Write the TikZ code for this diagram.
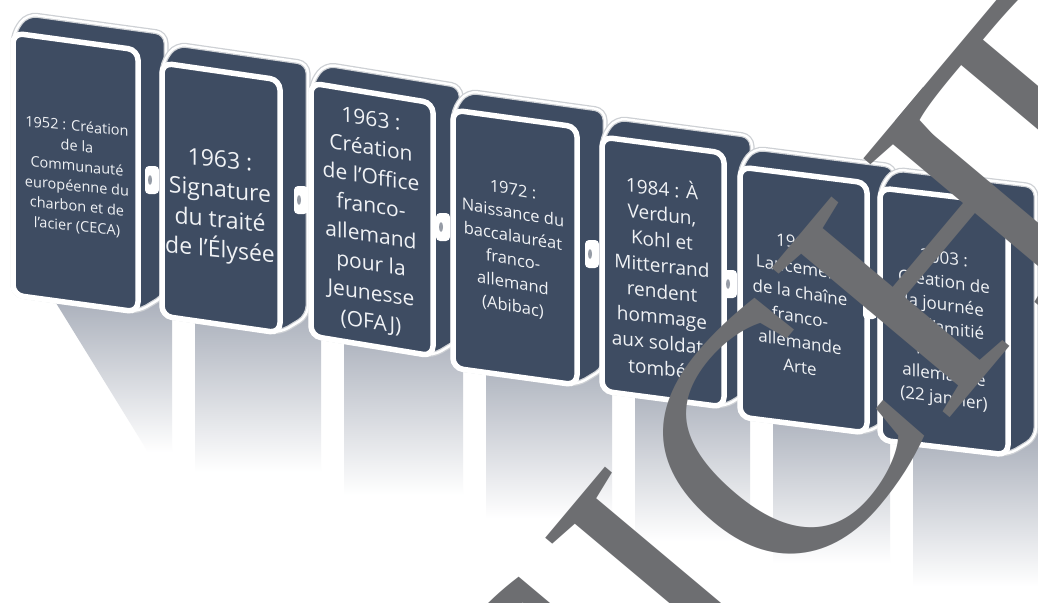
\documentclass[tikz,border=0pt]{standalone}
\usepackage{fontspec}
\setmainfont{Open Sans}
\newfontfamily\wmfont{Liberation Serif}
\definecolor{navy}{RGB}{62,76,98}
\definecolor{edgegray}{RGB}{205,208,212}
\definecolor{shgray}{RGB}{165,171,183}
\definecolor{txtwhite}{RGB}{240,242,245}
\definecolor{tabgray}{RGB}{150,156,166}
\definecolor{wmgray}{RGB}{109,110,113}
\newcommand\tlbox[5]{%
  \path[draw=edgegray, line width=5, fill=navy, rounded corners=10]
    (#1,#3+#5) -- (#1,#3) -- (#1+14,#3-19) -- (#2+28,#3+#4-17) -- (#2+28,#3+#4+#5-17) -- (#2,#3+#4+#5) -- cycle;
  \draw[white, line width=2.5, rounded corners=10]
    (#1,#3+#5) -- (#1,#3) -- (#1+14,#3-19) -- (#2+28,#3+#4-17) -- (#2+28,#3+#4+#5-17) -- (#2,#3+#4+#5) -- cycle;
  \draw[draw=white, line width=5.5, fill=navy, rounded corners=10]
    (#1,#3) -- (#2,#3+#4) -- (#2,#3+#4+#5) -- (#1,#3+#5) -- cycle;
}
\newcommand\tltab[2]{%
  \fill[white, rounded corners=4] (#1-7,#2-14) rectangle (#1+7,#2+14);
  \fill[tabgray] (#1-2,#2) ellipse (2 and 5);
}
\begin{document}
\begin{tikzpicture}[x=1pt,y=-1pt,
  boxtext/.style={text=txtwhite, align=center, inner sep=0pt},
  shadowband/.style={top color=shgray, bottom color=white, draw=none}]
\useasboundingbox (0,0) rectangle (1038,602);
\fill[white] (0,0) rectangle (1038,602);
% shadows under the boxes
\shade[shadowband] (48,290) -- (172,290) -- (172,452) -- (148,452) -- cycle;
\shade[shadowband] (195,300) rectangle (321,472);
\shade[shadowband] (344,320) rectangle (463,495);
\shade[shadowband] (486,350) rectangle (612,518);
\shade[shadowband] (635,375) rectangle (750,541);
\shade[shadowband] (773,400) rectangle (890,563);
\shade[shadowband] (913,425) rectangle (1038,586);
% boxes: left, right, top, slope, height
\tlbox{13}{138}{33}{17}{262}
\tlbox{162}{280}{63}{17}{253}
\tlbox{311}{433}{83}{20}{253}
\tlbox{453}{577}{110}{17}{258}
\tlbox{602}{724}{137}{16}{254}
\tlbox{740}{867}{167}{16}{250}
\tlbox{880}{1008}{188}{15}{252}
% hinges
\tltab{152}{180}
\tltab{301}{200}
\tltab{443}{227}
\tltab{592}{254}
\tltab{730}{284}
\tltab{870}{305}
% texts
\node[boxtext, font=\fontsize{14.5}{20}\selectfont, yslant=-0.10] (t1) at (77,177)
  {1952 : Création\\de la\\Communauté\\européenne du\\charbon et de\\l’acier (CECA)};
\node[boxtext, font=\fontsize{23}{30}\selectfont, yslant=-0.10] (t2) at (220,207)
  {1963 :\\Signature\\du traité\\de l’Élysée};
\node[boxtext, font=\fontsize{21}{29}\selectfont, yslant=-0.15] (t3) at (371,222)
  {1963 :\\Création\\de l’Office\\franco-\\allemand\\pour la\\Jeunesse\\(OFAJ)};
\node[boxtext, font=\fontsize{16.5}{23.4}\selectfont, yslant=-0.17] (t4) at (513,249)
  {1972 :\\Naissance du\\baccalauréat\\franco-\\allemand\\(Abibac)};
\node[boxtext, font=\fontsize{19}{25.7}\selectfont, yslant=-0.11] (t5) at (662,277)
  {1984 : À\\Verdun,\\Kohl et\\Mitterrand\\rendent\\hommage\\aux soldats\\tombés};
\node[boxtext, font=\fontsize{17}{24.8}\selectfont, yslant=-0.16] (t6) at (800,305)
  {1992 :\\Lancement\\de la chaîne\\franco-\\allemande\\Arte};
\node[boxtext, font=\fontsize{17}{23.3}\selectfont, yslant=-0.14] (t7) at (944,330)
  {2003 :\\Création de\\la journée\\de l’amitié\\franco-\\allemande\\(22 janvier)};
% watermark
\begin{scope}
\clip (0,0) rectangle (1038,602);
\node[text=wmgray, font=\wmfont\fontsize{355}{355}\selectfont, inner sep=0pt,
  anchor=base, rotate=50] (wm) at (734,675) {ANSICH\kern-60pt T};
\end{scope}
\end{tikzpicture}
\end{document}
